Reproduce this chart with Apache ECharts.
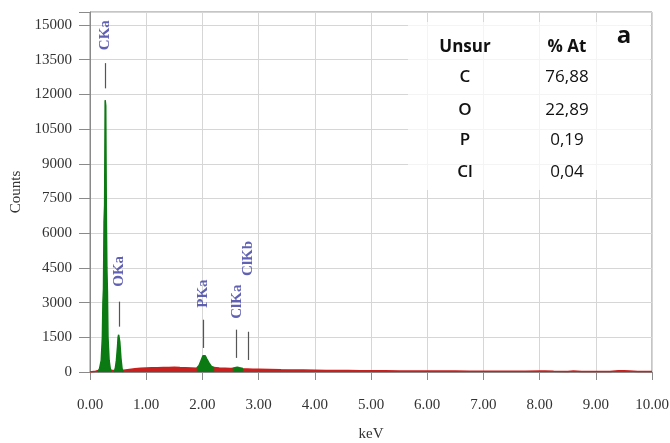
<!DOCTYPE html>
<html><head><meta charset="utf-8">
<script src="https://cdn.jsdelivr.net/npm/echarts@6/dist/echarts.min.js"></script>
<style>html,body{margin:0;padding:0;background:#fff}#c{width:670px;height:443px}</style>
</head><body><div id="c"></div>
<script>
// background (bremsstrahlung) spectrum, red
var bgKeV = [0.00,0.10,0.15,0.20,0.25,0.30,0.35,0.40,0.45,0.50,0.55,0.60,0.70,0.80,0.90,1.00,1.10,1.20,1.30,1.40,1.50,1.60,1.70,1.80,1.90,2.00,2.10,2.20,2.30,2.40,2.50,2.60,2.70,2.80,2.90,3.00,3.20,3.40,3.60,3.80,4.00,4.20,4.40,4.60,4.80,5.00,5.25,5.50,5.75,6.00,6.25,6.50,6.75,7.00,7.25,7.50,7.75,8.00,8.10,8.25,8.50,8.60,8.75,9.00,9.25,9.40,9.50,9.60,9.75,10.00];
var bgCounts = [0,30,70,100,110,110,90,70,60,60,60,80,110,140,160,170,180,185,190,195,200,190,185,175,160,180,200,190,170,160,150,160,140,130,120,115,105,95,90,85,80,70,65,60,55,50,50,45,45,45,40,40,35,35,30,30,30,45,40,30,25,40,25,25,25,50,55,45,25,20];
// characteristic peaks, green
var cPeakKeV = [0.14,0.17,0.20,0.22,0.23,0.24,0.25,0.26,0.27,0.28,0.29,0.30,0.31,0.32,0.34,0.36,0.38];
var cPeakCounts = [0,150,500,1500,3000,3600,6500,7200,11750,11500,7000,4500,3500,1500,500,150,0];
var oPeakKeV = [0.43,0.45,0.47,0.49,0.50,0.51,0.52,0.53,0.55,0.57,0.59];
var oPeakCounts = [0,150,500,1100,1500,1610,1550,1300,600,150,0];
var pPeakKeV = [1.90,1.94,1.98,2.01,2.03,2.05,2.08,2.12,2.16,2.21];
var pPeakCounts = [170,280,520,700,740,700,560,380,240,190];
var clPeakKeV = [2.54,2.58,2.62,2.66,2.72];
var clPeakCounts = [150,180,210,180,150];
// peak identification markers
var lineNames = ['CKa','OKa','PKa','ClKa','ClKb'];
var lineKeV = [0.27,0.52,2.01,2.61,2.82];
var lineTop = [13350,3040,2260,1830,1740];
var lineBottom = [12260,1960,1040,610,520];
var labelCounts = [14560,4350,3390,3040,4910];
// composition table
var elements = ['C','O','P','Cl'];
var atPct = ['76,88','22,89','0,19','0,04'];
var yTicks = [0,1500,3000,4500,6000,7500,9000,10500,12000,13500,15000];
var xTicks = ['0.00','1.00','2.00','3.00','4.00','5.00','6.00','7.00','8.00','9.00','10.00'];

function zip(a,b){return a.map(function(v,i){return [v,b[i]];});}
var serif = 'Liberation Serif';
var green = '#0b7a12', red = '#c8201e';

function peakSeries(k,c){
  return {type:'line',data:zip(k,c),symbol:'none',smooth:false,
    lineStyle:{color:green,width:1.5},areaStyle:{color:green,opacity:1},z:3,silent:true};
}

var labelData = lineNames.map(function(n,i){return [lineKeV[i],labelCounts[i],n];});
var markLines = lineNames.map(function(n,i){return [{coord:[lineKeV[i],lineTop[i]]},{coord:[lineKeV[i],lineBottom[i]]}];});

var tableTexts = [];
var colX = [465,567], rowY = [77,110,140,172];
tableTexts.push({type:'text',x:colX[0],y:47,style:{text:'Unsur',font:'bold 17px "Open Sans"',fill:'#111',align:'center',verticalAlign:'middle'}});
tableTexts.push({type:'text',x:colX[1],y:47,style:{text:'% At',font:'bold 17px "Open Sans"',fill:'#111',align:'center',verticalAlign:'middle'}});
tableTexts.push({type:'text',x:624,y:36,style:{text:'a',font:'bold 24px "Open Sans"',fill:'#111',align:'center',verticalAlign:'middle'}});
elements.forEach(function(e,i){
  tableTexts.push({type:'text',x:colX[0],y:rowY[i],style:{text:e,font:'600 17px "Open Sans"',fill:'#111',align:'center',verticalAlign:'middle'}});
  tableTexts.push({type:'text',x:colX[1],y:rowY[i],style:{text:atPct[i],font:'17px "Open Sans"',fill:'#111',align:'center',verticalAlign:'middle'}});
});

var chart = echarts.init(document.getElementById('c'));
chart.setOption({
  animation:false,
  backgroundColor:'#fff',
  grid:{left:90,right:18,top:12,bottom:71,show:true,borderColor:'#8a8a8a',borderWidth:1,outerBoundsMode:'none',containLabel:false},
  xAxis:{type:'value',min:0,max:10,interval:1,
    name:'keV',nameLocation:'middle',nameGap:55,
    nameTextStyle:{fontFamily:serif,fontSize:15,color:'#333'},
    axisLine:{show:true,lineStyle:{color:'#8a8a8a'}},
    axisTick:{show:true,length:8,lineStyle:{color:'#8a8a8a'}},
    axisLabel:{margin:26,fontFamily:serif,fontSize:15,color:'#333',formatter:function(v){var i=Math.round(v);return xTicks[i]||'';}},
    splitLine:{show:true,lineStyle:{color:'#d6d6d6'}}},
  yAxis:{type:'value',min:0,max:15560,interval:1500,
    name:'Counts',nameLocation:'middle',nameGap:64,
    nameTextStyle:{fontFamily:serif,fontSize:15,color:'#333'},
    axisLine:{show:true,lineStyle:{color:'#8a8a8a'}},
    axisTick:{show:true,length:11,lineStyle:{color:'#8a8a8a'}},
    axisLabel:{margin:18,fontFamily:serif,fontSize:15,color:'#333',formatter:function(v){return yTicks.indexOf(v)>=0?String(v):'';}},
    splitLine:{show:true,lineStyle:{color:'#d6d6d6'}}},
  graphic:[{type:'rect',shape:{x:408,y:22,width:242,height:168},style:{fill:'rgba(255,255,255,0.72)'},z:10}].concat(tableTexts.map(function(t){t.z=11;return t;})),
  series:[
    {type:'line',data:zip(bgKeV,bgCounts),symbol:'none',lineStyle:{color:red,width:1.5},areaStyle:{color:red,opacity:1},z:2,silent:true},
    peakSeries(cPeakKeV,cPeakCounts),
    peakSeries(oPeakKeV,oPeakCounts),
    peakSeries(pPeakKeV,pPeakCounts),
    peakSeries(clPeakKeV,clPeakCounts),
    {type:'scatter',data:labelData,symbolSize:0,z:5,silent:true,
      label:{show:true,position:'inside',rotate:90,formatter:function(p){return p.data[2];},
        fontFamily:serif,fontSize:15,fontWeight:'bold',color:'#3a3aa0'},
      markLine:{silent:true,symbol:'none',label:{show:false},lineStyle:{color:'#555',width:1.2,type:'solid'},data:markLines}}
  ]
});
</script></body></html>
